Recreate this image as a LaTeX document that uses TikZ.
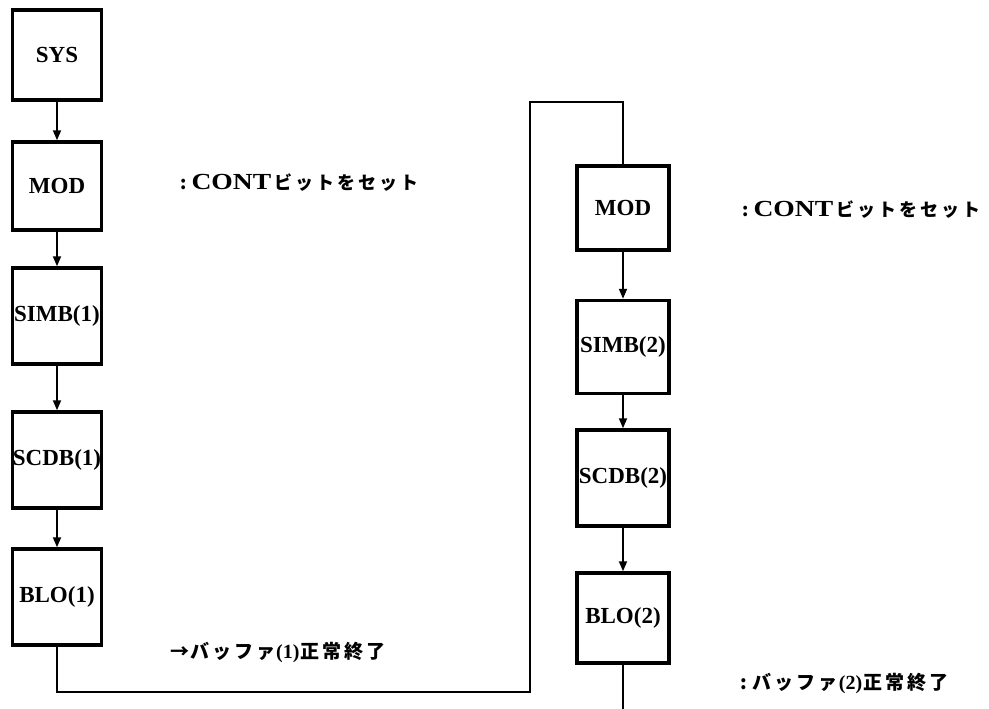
\documentclass[tikz,border=0pt]{standalone}
\usepackage{graphicx}
\usepackage{fontspec}
\newfontfamily\lib{Liberation Serif}
\newfontfamily\jp{Noto Sans CJK JP}
\usetikzlibrary{arrows.meta}
\newcommand\js{\kern3pt}
\tikzset{
  blk/.style={draw, line width=3.5pt, inner sep=0pt, minimum width=89pt,
    font=\lib\fontsize{23}{26}\selectfont\bfseries},
  conn/.style={line width=1.8pt},
  arr/.style={conn, -{Triangle[length=10pt,width=8pt]}},
  note/.style={anchor=west, inner sep=0pt, font=\bfseries},
}
\newcommand\contbit{{\jp\fontsize{18}{20}\selectfont :}\kern5pt\scalebox{1.2}[1]{\lib\bfseries\fontsize{23}{26}\selectfont CONT}\kern3pt{\jp\fontsize{18}{20}\selectfont ビ\js ッ\js ト\js を\js セ\js ッ\js ト}}
\newcommand\buf[1]{{\jp\fontsize{19}{22}\selectfont バ\js ッ\js フ\js ァ}\kern1pt{\lib\fontsize{20}{22}\selectfont (#1)}\kern1pt{\jp\fontsize{19}{22}\selectfont 正\js 常\js 終\js 了}}
\begin{document}
\begin{tikzpicture}[x=1pt,y=-1pt]
\useasboundingbox (0,0) rectangle (989,709);
% left column
\node[blk, minimum height=90pt] (sys)   at (57,55)  {SYS};
\node[blk, minimum height=88pt] (mod1)  at (57,186) {MOD};
\node[blk, minimum height=96pt] (simb1) at (57,316) {SIMB(1)};
\node[blk, minimum height=96pt] (scdb1) at (57,460) {SCDB(1)};
\node[blk, minimum height=96pt] (blo1)  at (57,597) {BLO(1)};
% right column
\node[blk, minimum width=92pt, minimum height=84pt] (mod2)  at (623,208) {MOD};
\node[blk, minimum width=92pt, minimum height=93pt] (simb2) at (623,347) {SIMB(2)};
\node[blk, minimum width=92pt, minimum height=96pt] (scdb2) at (623,478) {SCDB(2)};
\node[blk, minimum width=92pt, minimum height=90pt] (blo2)  at (623,618) {BLO(2)};
% notes
\node[note] (n1) at (180,183) {\contbit};
\node[note] (n2) at (742,210) {\contbit};
\node[note] (n3) at (170,652) {{\jp\fontsize{19}{22}\selectfont →}\kern1pt\buf{1}};
\node[note] (n4) at (740,683) {{\jp\fontsize{19}{22}\selectfont :}\kern6pt\buf{2}};
% connectors
\draw[arr] (sys) -- (mod1);
\draw[arr] (mod1) -- (simb1);
\draw[arr] (simb1) -- (scdb1);
\draw[arr] (scdb1) -- (blo1);
\draw[arr] (mod2) -- (simb2);
\draw[arr] (simb2) -- (scdb2);
\draw[arr] (scdb2) -- (blo2);
\coordinate (k1) at (530,692);
\coordinate (k2) at (530,102);
\coordinate (k3) at (623,709);
\draw[conn] (blo1.south) |- (k1) -- (k2) -| (mod2.north);
\draw[conn] (blo2.south) -- (k3);
\end{tikzpicture}
\end{document}
